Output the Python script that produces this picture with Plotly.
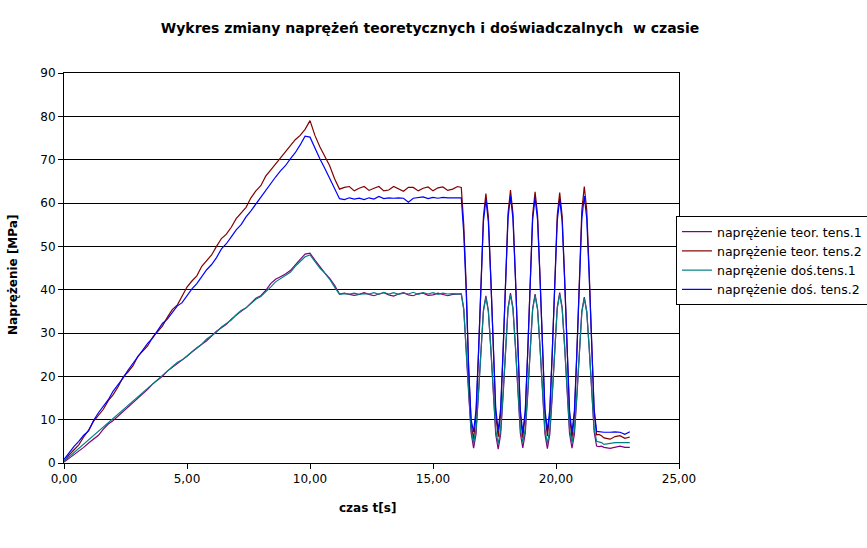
import plotly.graph_objects as go

# time samples [s]
time_s = [
    0.0, 0.2, 0.4, 0.6, 0.8, 1.0, 1.2, 1.4, 1.6, 1.8,
    2.0, 2.2, 2.4, 2.6, 2.8, 3.0, 3.2, 3.4, 3.6, 3.8,
    4.0, 4.2, 4.4, 4.6, 4.8, 5.0, 5.2, 5.4, 5.6, 5.8,
    6.0, 6.2, 6.4, 6.6, 6.8, 7.0, 7.2, 7.4, 7.6, 7.8,
    8.0, 8.2, 8.4, 8.6, 8.8, 9.0, 9.2, 9.4, 9.6, 9.8,
    10.0,
    10.2, 10.4, 10.6, 10.8, 11.0, 11.2,
    11.4, 11.6, 11.8, 12.0, 12.2, 12.4, 12.6, 12.8, 13.0, 13.2,
    13.4, 13.6, 13.8, 14.0, 14.2, 14.4, 14.6, 14.8, 15.0, 15.2,
    15.4, 15.6, 15.8, 16.0,
    16.15, 16.25, 16.35, 16.45, 16.55, 16.65,
    16.75, 16.85, 16.95, 17.05, 17.15,
    17.25, 17.35, 17.45, 17.55, 17.65,
    17.75, 17.85, 17.95, 18.05, 18.15,
    18.25, 18.35, 18.45, 18.55, 18.65,
    18.75, 18.85, 18.95, 19.05, 19.15,
    19.25, 19.35, 19.45, 19.55, 19.65,
    19.75, 19.85, 19.95, 20.05, 20.15,
    20.25, 20.35, 20.45, 20.55, 20.65,
    20.75, 20.85, 20.95, 21.05, 21.15,
    21.25, 21.35, 21.45, 21.55, 21.65,
    21.75, 21.85, 21.95,
    22.2, 22.4, 22.6, 22.8, 23.0,
]

teor_tens1 = [
    0.2, 1.0, 1.8, 2.6, 3.6, 4.6, 5.4, 6.4, 7.8, 9.0,
    9.8, 10.8, 12.0, 12.8, 13.8, 15.0, 15.8, 17.0, 18.2, 19.0,
    20.0, 21.2, 22.0, 22.8, 23.8, 24.6, 25.6, 26.6, 27.4, 28.2,
    29.4, 30.4, 31.2, 32.0, 33.2, 34.2, 35.0, 35.8, 37.0, 38.0,
    38.6, 39.8, 41.4, 42.4, 43.0, 43.6, 44.4, 45.8, 47.0, 48.2,
    48.4,
    46.8, 45.2, 43.9, 42.6, 41.0, 39.0,
    39.2, 38.9, 38.7, 38.9, 39.3, 38.9, 38.6, 39.0, 39.3, 38.8,
    38.5, 39.0, 39.3, 38.8, 38.6, 39.1, 39.2, 38.7, 38.8, 39.2,
    38.9, 38.6, 38.9, 39.0,
    39.0, 35.6, 27.0, 16.0, 7.0, 3.4,
    6.7, 15.5, 26.5, 35.3, 38.6,
    35.2, 26.4, 15.4, 6.6, 3.2,
    6.6, 15.6, 26.8, 35.8, 39.2,
    35.8, 26.9, 15.8, 6.9, 3.5,
    6.9, 15.7, 26.8, 35.6, 39.0,
    35.6, 26.7, 15.6, 6.7, 3.3,
    6.7, 15.7, 26.9, 35.9, 39.3,
    35.9, 26.9, 15.8, 6.8, 3.4,
    6.7, 15.4, 26.3, 35.0, 38.3,
    35.0, 26.4, 15.8, 7.2, 3.9,
    3.8, 3.9, 3.6,
    3.4, 3.7, 3.9, 3.6, 3.6,
]

teor_tens2 = [
    0.3, 1.8, 3.0, 4.2, 6.0, 7.6, 9.6, 11.0, 12.4, 14.4,
    15.8, 17.6, 19.8, 21.0, 22.4, 24.6, 25.8, 27.0, 29.0, 30.4,
    31.6, 33.6, 35.4, 36.4, 38.4, 40.6, 42.0, 43.2, 45.4, 46.8,
    48.0, 50.0, 51.8, 52.8, 54.4, 56.4, 57.6, 59.0, 61.2, 62.8,
    64.0, 66.2, 67.6, 69.0, 70.4, 71.6, 73.0, 74.6, 75.6, 77.0,
    79.0,
    75.6, 73.0, 70.8, 68.6, 65.6, 63.2,
    63.6, 63.8, 62.8, 63.4, 63.8, 62.9, 63.4, 63.8, 62.8, 63.0,
    63.8, 63.2, 62.7, 63.6, 63.6, 62.8, 63.4, 63.7, 62.8, 63.5,
    63.7, 62.9, 63.2, 63.8,
    63.6, 55.0, 41.0, 22.0, 9.0, 5.5,
    10.9, 25.1, 42.6, 56.8, 62.2,
    56.9, 42.8, 25.4, 11.3, 6.0,
    11.4, 25.7, 43.3, 57.6, 63.0,
    57.6, 43.1, 25.5, 11.2, 5.8,
    11.2, 25.4, 43.0, 57.2, 62.6,
    57.3, 43.1, 25.7, 11.6, 6.2,
    11.5, 25.6, 43.0, 57.1, 62.4,
    57.0, 42.8, 25.2, 11.0, 5.6,
    11.1, 25.7, 43.7, 58.3, 63.8,
    58.4, 44.0, 26.3, 11.9, 6.5,
    6.6, 6.3, 5.8,
    5.5, 6.1, 6.3, 5.7, 6.0,
]

dos_tens1 = [
    0.4, 1.4, 2.4, 3.2, 4.2, 5.4, 6.2, 7.2, 8.2, 9.2,
    10.4, 11.4, 12.2, 13.2, 14.4, 15.2, 16.2, 17.4, 18.2, 19.4,
    20.4, 21.2, 22.2, 23.2, 23.8, 24.8, 25.8, 26.6, 27.4, 28.6,
    29.4, 30.2, 31.4, 32.2, 33.0, 34.2, 35.2, 35.8, 36.8, 37.8,
    38.4, 39.4, 40.6, 41.8, 42.6, 43.2, 44.0, 45.4, 46.4, 47.6,
    48.0,
    46.4, 45.0, 43.8, 42.4, 40.6, 38.9,
    39.1, 39.0, 39.2, 38.9, 39.1, 39.0, 39.3, 38.9, 39.4, 39.0,
    39.3, 38.9, 39.2, 39.0, 39.4, 38.9, 39.3, 39.0, 39.3, 38.9,
    39.2, 39.0, 39.1, 39.0,
    39.0, 35.4, 26.8, 16.0, 7.6, 4.6,
    7.8, 16.2, 26.6, 35.0, 38.2,
    35.0, 26.5, 16.1, 7.6, 4.4,
    7.7, 16.3, 26.9, 35.5, 38.8,
    35.6, 27.0, 16.5, 7.9, 4.7,
    7.9, 16.4, 26.9, 35.4, 38.6,
    35.4, 26.8, 16.3, 7.7, 4.5,
    7.8, 16.4, 27.0, 35.6, 38.9,
    35.6, 27.1, 16.4, 7.9, 4.6,
    7.8, 16.1, 26.5, 34.8, 38.0,
    34.9, 26.6, 16.4, 8.1, 5.0,
    4.8, 4.7, 4.3,
    4.6, 4.7, 4.7, 4.7, 4.7,
]

dos_tens2 = [
    0.8, 2.4, 3.8, 5.0, 6.4, 7.4, 9.8, 11.6, 13.0, 14.6,
    16.6, 18.0, 19.6, 21.4, 23.0, 24.4, 26.2, 27.6, 28.8, 30.4,
    32.2, 33.2, 34.8, 36.2, 37.0, 38.6, 40.2, 41.4, 43.0, 44.6,
    45.8, 47.4, 49.4, 50.6, 52.2, 53.8, 55.0, 56.8, 58.2, 59.8,
    61.4, 62.8, 64.4, 66.0, 67.4, 68.6, 70.2, 71.6, 73.4, 75.4,
    75.2,
    72.6, 70.2, 68.0, 65.6, 63.0, 61.0,
    60.8, 61.2, 60.9, 61.1, 60.8, 61.2, 60.9, 61.5, 61.0, 61.2,
    61.1, 61.2, 61.1, 60.2, 61.1, 61.2, 61.4, 61.0, 61.3, 61.1,
    61.3, 61.2, 61.2, 61.2,
    61.2, 53.0, 39.5, 21.5, 10.0, 7.2,
    12.3, 25.7, 42.3, 55.7, 60.8,
    55.7, 42.4, 25.9, 12.6, 7.5,
    12.6, 26.2, 42.9, 56.5, 61.6,
    56.4, 42.8, 25.8, 12.2, 7.0,
    12.1, 25.7, 42.5, 56.1, 61.2,
    56.1, 42.6, 26.0, 12.5, 7.4,
    12.5, 25.9, 42.4, 55.8, 60.9,
    55.8, 42.3, 25.6, 12.1, 7.0,
    12.2, 25.8, 42.8, 56.4, 61.6,
    56.4, 42.9, 26.1, 12.5, 7.3,
    7.2, 7.2, 7.1,
    7.1, 7.2, 7.1, 6.6, 7.2,
]

series_names = [
    "naprężenie teor. tens.1",
    "naprężenie teor. tens.2",
    "naprężenie doś.tens.1",
    "naprężenie doś. tens.2",
]
series_values = [teor_tens1, teor_tens2, dos_tens1, dos_tens2]
series_colors = ["#800080", "#800000", "#008080", "#0000FF"]

x_ticks = [0, 5, 10, 15, 20, 25]
y_ticks = [0, 10, 20, 30, 40, 50, 60, 70, 80, 90]

FONT = "DejaVu Sans"
W, H = 867, 548
PL, PR, PT, PB = 64, 679, 73, 463  # plot box in page pixels

fig = go.Figure()
for i, (name, vals, col) in enumerate(zip(series_names, series_values, series_colors)):
    fig.add_trace(go.Scatter(
        x=time_s, y=vals, mode="lines", name=name, legendgroup="g%d" % i,
        line=dict(color=col, width=1.2),
    ))

fig.update_layout(
    width=W, height=H,
    margin=dict(l=PL, r=W - PR, t=PT, b=H - PB, autoexpand=False),
    paper_bgcolor="white", plot_bgcolor="white",
    separators=",.",
    font=dict(family=FONT, size=12, color="black"),
    title=dict(
        text="Wykres zmiany naprężeń teoretycznych i doświadczalnych  w czasie",
        x=430 / W, xanchor="center", xref="container",
        y=1 - 28 / H, yanchor="middle", yref="container",
        font=dict(family=FONT, size=14, color="black", weight="bold"),
    ),
    showlegend=True,
    legend=dict(
        x=(676 - PL) / (PR - PL), xanchor="left",
        y=(PB - 216) / (PB - PT), yanchor="top",
        bgcolor="white", bordercolor="black", borderwidth=1,
        font=dict(family=FONT, size=12.5, color="black"),
        itemwidth=30, tracegroupgap=0,
    ),
)

fig.update_xaxes(
    range=[0, 25], tickvals=x_ticks, tickformat=".2f",
    showgrid=False, zeroline=False,
    showline=True, linecolor="black", linewidth=1, mirror=True,
    ticks="outside", ticklen=5, tickcolor="black",
    tickfont=dict(family=FONT, size=12, color="black"),
)
fig.update_yaxes(
    range=[0, 90], tickvals=y_ticks,
    showgrid=True, gridcolor="black", gridwidth=1, zeroline=False,
    showline=True, linecolor="black", linewidth=1, mirror=True,
    ticks="outside", ticklen=5, tickcolor="black",
    tickfont=dict(family=FONT, size=12, color="black"),
)

fig.add_annotation(
    text="czas t[s]", xref="paper", yref="paper",
    x=(367 - PL) / (PR - PL), y=(PB - 508) / (PB - PT),
    xanchor="center", yanchor="middle", showarrow=False,
    font=dict(family=FONT, size=12, color="black", weight="bold"),
)
fig.add_annotation(
    text="Naprężenie [MPa]", xref="paper", yref="paper",
    x=(13 - PL) / (PR - PL), y=(PB - 275) / (PB - PT), textangle=-90,
    xanchor="center", yanchor="middle", showarrow=False,
    font=dict(family=FONT, size=12, color="black", weight="bold"),
)

fig.write_html(
    "out.html",
    config={"displayModeBar": False},
    post_script="document.body.style.margin='0';document.body.style.overflow='hidden';",
)
